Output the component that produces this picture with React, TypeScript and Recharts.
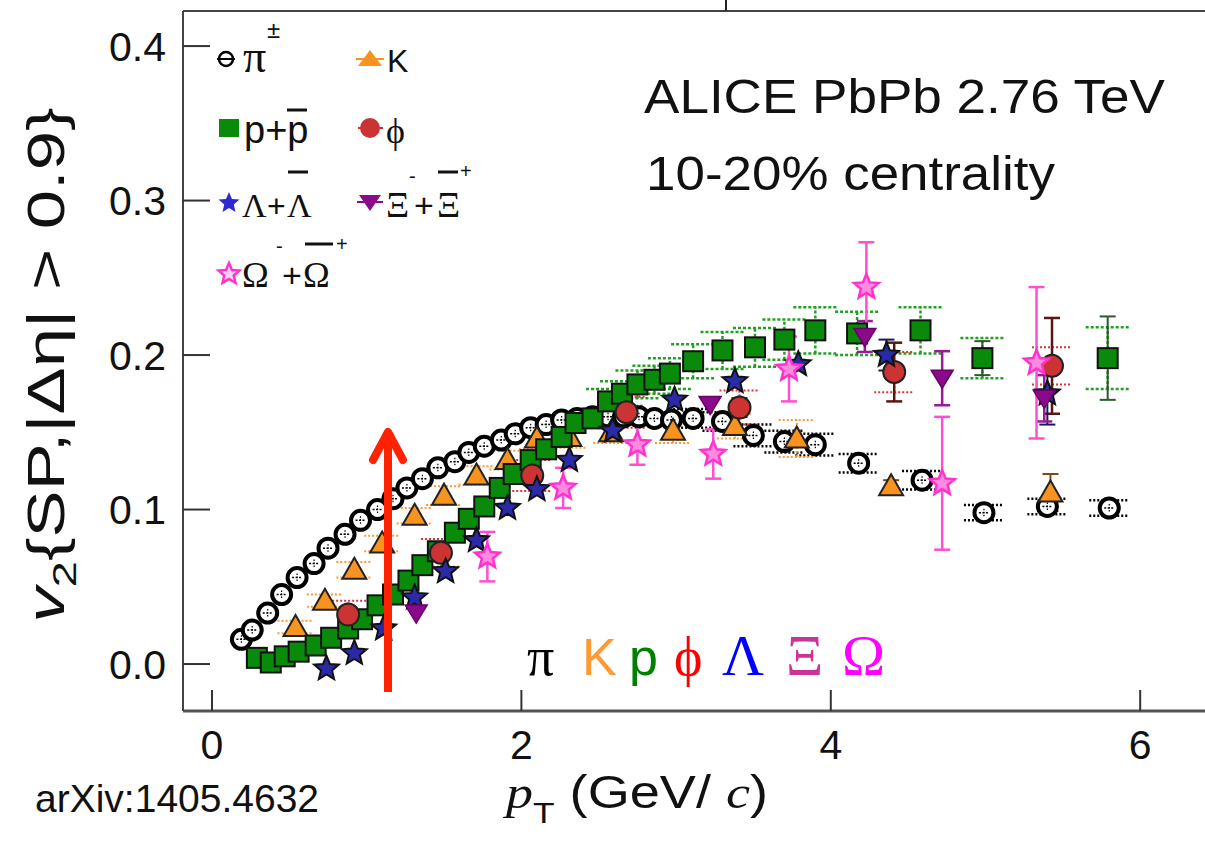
import React from "react";
import { ScatterChart, Scatter, XAxis, YAxis, ErrorBar } from "recharts";

// v2 vs pT
const pionPt = [0.19, 0.26, 0.36, 0.45, 0.55, 0.66, 0.75, 0.86, 0.96, 1.07, 1.17, 1.26, 1.36, 1.46, 1.57, 1.66, 1.76, 1.87, 1.96, 2.06, 2.16, 2.26, 2.36, 2.46, 2.56, 2.66, 2.76, 2.86, 2.97, 3.11, 3.30, 3.50, 3.70, 3.90, 4.18, 4.59, 4.99, 5.40, 5.80];
const pionV2 = [0.016, 0.022, 0.033, 0.045, 0.056, 0.065, 0.075, 0.084, 0.093, 0.100, 0.107, 0.114, 0.120, 0.127, 0.131, 0.137, 0.141, 0.145, 0.149, 0.153, 0.155, 0.158, 0.159, 0.160, 0.160, 0.160, 0.160, 0.159, 0.158, 0.159, 0.157, 0.148, 0.144, 0.142, 0.130, 0.119, 0.098, 0.102, 0.101];
const pionSys = [0, 0, 0, 0, 0, 0, 0, 0, 0, 0, 0, 0, 0, 0, 0, 0, 0, 0, 0, 0, 0, 0, 0, 0, 0, 0, 0, 0, 0, 0.006, 0.006, 0.007, 0.007, 0.007, 0.006, 0.006, 0.005, 0.005, 0.005];

const kaonPt = [0.54, 0.73, 0.92, 1.10, 1.31, 1.50, 1.71, 1.91, 2.10, 2.31, 2.58, 2.98, 3.38, 3.78, 4.39, 5.42];
const kaonV2 = [0.024, 0.041, 0.061, 0.078, 0.096, 0.109, 0.122, 0.132, 0.146, 0.147, 0.150, 0.151, 0.154, 0.146, 0.115, 0.111];
const kaonErr = [0, 0, 0, 0, 0, 0, 0, 0, 0, 0, 0, 0, 0, 0, 0.004, 0.012];
const kaonSys = [0.004, 0.004, 0.005, 0.005, 0.005, 0.006, 0.006, 0.006, 0.007, 0.007, 0.007, 0.008, 0.008, 0.012, 0, 0];

const protonPt = [0.29, 0.38, 0.47, 0.56, 0.67, 0.77, 0.88, 0.97, 1.07, 1.17, 1.27, 1.36, 1.46, 1.57, 1.66, 1.76, 1.86, 1.95, 2.06, 2.16, 2.26, 2.35, 2.46, 2.56, 2.65, 2.75, 2.86, 2.96, 3.11, 3.30, 3.51, 3.70, 3.90, 4.17, 4.58, 4.98, 5.79];
const protonV2 = [0.004, 0.001, 0.005, 0.008, 0.012, 0.017, 0.023, 0.029, 0.038, 0.045, 0.054, 0.064, 0.073, 0.085, 0.094, 0.102, 0.114, 0.123, 0.132, 0.139, 0.147, 0.156, 0.159, 0.170, 0.175, 0.181, 0.184, 0.188, 0.196, 0.203, 0.205, 0.210, 0.216, 0.214, 0.216, 0.198, 0.198];
const protonErr = [0, 0, 0, 0, 0, 0, 0, 0, 0, 0, 0, 0, 0, 0, 0, 0, 0, 0, 0, 0, 0, 0, 0, 0, 0, 0, 0, 0, 0, 0, 0, 0, 0, 0, 0, 0.011, 0.027];
const protonSys = [0, 0, 0, 0, 0, 0, 0, 0, 0, 0, 0, 0, 0, 0, 0, 0, 0, 0, 0, 0, 0, 0, 0, 0.008, 0.008, 0.009, 0.009, 0.01, 0.011, 0.012, 0.0125, 0.013, 0.015, 0.014, 0.015, 0.013, 0.02];

const phiPt = [0.88, 1.48, 2.07, 2.68, 3.41, 4.41, 5.43];
const phiV2 = [0.032, 0.072, 0.122, 0.163, 0.166, 0.189, 0.193];
const phiErr = [0, 0, 0, 0, 0.006, 0.019, 0.031];
const phiSys = [0.009, 0.009, 0.01, 0.01, 0.011, 0.013, 0.012];

const lambdaPt = [0.74, 0.92, 1.11, 1.31, 1.51, 1.71, 1.91, 2.10, 2.31, 2.59, 2.99, 3.38, 3.79, 4.36, 5.40];
const lambdaV2 = [-0.003, 0.007, 0.023, 0.043, 0.060, 0.080, 0.101, 0.113, 0.132, 0.151, 0.171, 0.183, 0.194, 0.200, 0.175];
const lambdaErr = [0, 0, 0, 0, 0, 0, 0, 0, 0, 0, 0, 0, 0, 0.01, 0.02];

const xiPt = [1.32, 3.22, 4.22, 4.72, 5.38];
const xiV2 = [0.033, 0.168, 0.212, 0.185, 0.172];
const xiErr = [0, 0, 0.01, 0.0175, 0.015];

const omegaPt = [1.78, 2.27, 2.75, 3.24, 3.73, 4.23, 4.72, 5.33];
const omegaV2 = [0.0695, 0.114, 0.142, 0.136, 0.191, 0.244, 0.117, 0.195];
const omegaErr = [0.016, 0.013, 0.013, 0.016, 0.021, 0.029, 0.043, 0.049];

const xTicks = [0, 2, 4, 6];
const yTicks = [0, 0.1, 0.2, 0.3, 0.4];

const toRows = (pt: number[], v: number[], e?: number[], s?: number[]) =>
  pt.map((x, i) => ({ x, y: v[i], err: e ? e[i] : 0, sys: s ? s[i] : 0 }));

const SANS = "'Liberation Sans', Arial, Helvetica, sans-serif";
const SERIF = "'Liberation Serif', 'Times New Roman', serif";

function starPath(cx: number, cy: number, R: number, r: number) {
  let d = "";
  for (let i = 0; i < 10; i++) {
    const a = -Math.PI / 2 + (i * Math.PI) / 5;
    const rad = i % 2 === 0 ? R : r;
    d += (i === 0 ? "M" : "L") + (cx + rad * Math.cos(a)).toFixed(2) + "," + (cy + rad * Math.sin(a)).toFixed(2);
  }
  return d + "Z";
}

const PionDot = ({ cx, cy }: any) => (
  <g>
    <circle cx={cx} cy={cy} r={9.5} fill="#fff" stroke="#000" strokeWidth={4} />
    <line x1={cx - 5} x2={cx + 5} y1={cy} y2={cy} stroke="#000" strokeWidth={1.5} strokeDasharray="2 1.5" />
    <line x1={cx} x2={cx} y1={cy - 4} y2={cy + 4} stroke="#000" strokeWidth={1.2} strokeDasharray="1.5 1.5" />
  </g>
);
const KaonTri = ({ cx, cy }: any) => (
  <polygon points={`${cx},${cy - 12} ${cx + 12},${cy + 9} ${cx - 12},${cy + 9}`} fill="#f7931e" stroke="#222" strokeWidth={2} />
);
const ProtonSq = ({ cx, cy }: any) => (
  <rect x={cx - 10} y={cy - 10} width={20} height={20} fill="#0a8a0a" stroke="#111" strokeWidth={2} />
);
const PhiDot = ({ cx, cy }: any) => <circle cx={cx} cy={cy} r={11} fill="#cc3333" stroke="#222" strokeWidth={2} />;
const LambdaStar = ({ cx, cy }: any) => (
  <path d={starPath(cx, cy, 13, 5.8)} fill="#2a2aa8" stroke="#111" strokeWidth={2} />
);
const XiTri = ({ cx, cy }: any) => (
  <polygon points={`${cx - 11},${cy - 8} ${cx + 11},${cy - 8} ${cx},${cy + 10}`} fill="#8b0a8b" stroke="#6a006a" strokeWidth={1.5} />
);
const OmegaStar = ({ cx, cy }: any) => (
  <path d={starPath(cx, cy, 13, 5.8)} fill="#ff88e0" stroke="#ff33cc" strokeWidth={2.5} />
);

function YTick(props: any) {
  const { x, y, payload } = props;
  return (
    <g>
      <line x1={x} x2={x + 27} y1={y} y2={y} stroke="#333" strokeWidth={2} />
      <text x={x - 17} y={y} dy="0.36em" textAnchor="end" fontSize={41} fontFamily={SANS} fill="#111">
        {Number(payload.value).toFixed(1)}
      </text>
    </g>
  );
}

function XTick(props: any) {
  const { x, y, payload } = props;
  return (
    <g>
      <line x1={x} x2={x} y1={y} y2={y - 21} stroke="#333" strokeWidth={2} />
      <text x={x} y={y + 48} textAnchor="middle" fontSize={41} fontFamily={SANS} fill="#111">
        {payload.value}
      </text>
    </g>
  );
}

function Overlay() {
  const t = { fontFamily: SANS, fill: "#111" } as const;
  const g = { fontFamily: SERIF, fill: "#111" } as const;
  return (
    <svg width={1205} height={841} style={{ position: "absolute", left: 0, top: 0, pointerEvents: "none" }}>
      <line x1={183} x2={1205} y1={11} y2={11} stroke="#444" strokeWidth={2} />
      <line x1={726} x2={726} y1={0} y2={11} stroke="#222" strokeWidth={2} />

      {/* legend */}
      <circle cx={226} cy={59} r={7} fill="#fff" stroke="#000" strokeWidth={2.5} />
      <line x1={217} x2={235} y1={59} y2={59} stroke="#000" strokeWidth={2} />
      <text x={243} y={72} fontSize={46} {...g}>π</text>
      <text x={267} y={38} fontSize={24} {...t}>±</text>
      <polygon points="370,50 382,66 358,66" fill="#f7931e" />
      <line x1={356} x2={384} y1={59} y2={59} stroke="#f7931e" strokeWidth={2} />
      <text x={387} y={72} fontSize={32} {...t}>K</text>

      <rect x={219} y={119} width={20} height={18} fill="#0a8a0a" />
      <text x={244} y={143} fontSize={38} {...t}>p+p</text>
      <line x1={287} x2={307} y1={110} y2={110} stroke="#111" strokeWidth={3} />
      <circle cx={370} cy={128} r={10} fill="#cc3333" />
      <line x1={358} x2={383} y1={128} y2={128} stroke="#cc3333" strokeWidth={2} />
      <text x={386} y={143} fontSize={36} {...g}>ϕ</text>

      <path d={starPath(229, 203, 11, 5)} fill="#2a2ad0" />
      <text x={242} y={217} fontSize={34} {...g}>Λ</text>
      <text x={267} y={217} fontSize={32} {...t}>+</text>
      <text x={287} y={217} fontSize={34} {...g}>Λ</text>
      <line x1={288} x2={308} y1={172} y2={172} stroke="#111" strokeWidth={3} />
      <polygon points="359,195 381,195 370,211" fill="#8b0a8b" />
      <line x1={357} x2={383} y1={202} y2={202} stroke="#8b0a8b" strokeWidth={2} />
      <text x={386} y={217} fontSize={36} {...g}>Ξ</text>
      <text x={409} y={183} fontSize={20} {...t}>-</text>
      <text x={414} y={217} fontSize={34} {...t}>+</text>
      <text x={437} y={217} fontSize={36} {...g}>Ξ</text>
      <line x1={438} x2={458} y1={172} y2={172} stroke="#111" strokeWidth={3} />
      <text x={460} y={178} fontSize={20} {...t}>+</text>

      <path d={starPath(229, 274, 11, 5)} fill="#ffd0f4" stroke="#ff33cc" strokeWidth={2.5} />
      <text x={242} y={287} fontSize={36} {...g}>Ω</text>
      <text x={276} y={253} fontSize={20} {...t}>-</text>
      <text x={282} y={287} fontSize={34} {...t}>+</text>
      <text x={303} y={287} fontSize={36} {...g}>Ω</text>
      <line x1={305} x2={333} y1={244} y2={244} stroke="#111" strokeWidth={3} />
      <text x={336} y={251} fontSize={20} {...t}>+</text>

      {/* annotations */}
      <text x={644} y={113} fontSize={48} textLength={521} lengthAdjust="spacingAndGlyphs" {...t}>ALICE PbPb 2.76 TeV</text>
      <text x={646} y={190} fontSize={48} textLength={409} lengthAdjust="spacingAndGlyphs" {...t}>10-20% centrality</text>

      <text x={527} y={675} fontSize={54} fontFamily={SERIF} fill="#000">π</text>
      <text x={582} y={675} fontSize={52} fontFamily={SANS} fill="#ff9933">K</text>
      <text x={629} y={675} fontSize={52} fontFamily={SANS} fill="#008000">p</text>
      <text x={674} y={675} fontSize={54} fontFamily={SERIF} fill="#ff0000">ϕ</text>
      <text x={722} y={675} fontSize={58} fontFamily={SERIF} fill="#0000ff">Λ</text>
      <text x={786} y={675} fontSize={58} fontFamily={SERIF} fill="#cc3399">Ξ</text>
      <text x={842} y={675} fontSize={58} fontFamily={SERIF} fill="#ff00ff">Ω</text>

      {/* arrow */}
      <line x1={388} x2={388} y1={692} y2={434} stroke="#ff2200" strokeWidth={8} />
      <polyline points="373,460 388,432 403,460" fill="none" stroke="#ff2200" strokeWidth={8} strokeLinecap="round" strokeLinejoin="round" />

      {/* axis titles */}
      <text transform="translate(64,365) rotate(-90)" textAnchor="middle" fontSize={51} textLength={515} lengthAdjust="spacingAndGlyphs" {...t}>
        <tspan fontStyle="italic">v</tspan>
        <tspan dy={12} fontSize={34}>2</tspan>
        <tspan dy={-12}>{"{SP,|Δη| > 0.9}"}</tspan>
      </text>
      <text x={506} y={808} fontSize={46} textLength={262} lengthAdjust="spacingAndGlyphs" {...t}>
        <tspan fontFamily={SERIF} fontStyle="italic">p</tspan>
        <tspan dy={15} fontSize={30}>T</tspan>
        <tspan dy={-15}>{" (GeV/ "}</tspan>
        <tspan fontFamily={SERIF} fontStyle="italic">c</tspan>
        <tspan>)</tspan>
      </text>
      <text x={35} y={812} fontSize={39} {...t}>arXiv:1405.4632</text>
    </svg>
  );
}

export default function App() {
  return (
    <div style={{ position: "absolute", left: 0, top: 0, width: 1205, height: 841, background: "#fff" }}>
      <ScatterChart width={1205} height={841} margin={{ top: 11, right: 0, bottom: 0, left: 0 }}>
        <XAxis
          type="number"
          dataKey="x"
          domain={[-0.1875, 6.419]}
          ticks={xTicks}
          interval={0}
          allowDataOverflow
          height={130}
          tickSize={0}
          tickMargin={0}
          tickLine={false}
          axisLine={{ stroke: "#555", strokeWidth: 3 }}
          tick={(p: any) => <XTick {...p} />}
        />
        <YAxis
          type="number"
          dataKey="y"
          domain={[-0.0304, 0.4227]}
          ticks={yTicks}
          interval={0}
          allowDataOverflow
          width={183}
          tickSize={0}
          tickMargin={0}
          tickLine={false}
          axisLine={{ stroke: "#444", strokeWidth: 2 }}
          tick={(p: any) => <YTick {...p} />}
        />
        <Scatter data={toRows(pionPt, pionV2, undefined, pionSys)} isAnimationActive={false} shape={(p: any) => <PionDot {...p} />}>
          <ErrorBar dataKey="sys" direction="y" width={20} stroke="#000" strokeWidth={2.5} strokeDasharray="2 2" />
        </Scatter>
        <Scatter data={toRows(kaonPt, kaonV2, kaonErr, kaonSys)} isAnimationActive={false} shape={(p: any) => <KaonTri {...p} />}>
          <ErrorBar dataKey="sys" direction="y" width={18} stroke="#ff9933" strokeWidth={2} strokeDasharray="2 2" />
          <ErrorBar dataKey="err" direction="y" width={8} stroke="#7a4a1a" strokeWidth={2} />
        </Scatter>
        <Scatter data={toRows(protonPt, protonV2, protonErr, protonSys)} isAnimationActive={false} shape={(p: any) => <ProtonSq {...p} />}>
          <ErrorBar dataKey="sys" direction="y" width={22} stroke="#22a022" strokeWidth={2.5} strokeDasharray="3 2" />
          <ErrorBar dataKey="err" direction="y" width={8} stroke="#2d5a2d" strokeWidth={2} />
        </Scatter>
        <Scatter data={toRows(phiPt, phiV2, phiErr, phiSys)} isAnimationActive={false} shape={(p: any) => <PhiDot {...p} />}>
          <ErrorBar dataKey="sys" direction="y" width={20} stroke="#dd3333" strokeWidth={2} strokeDasharray="2 2" />
          <ErrorBar dataKey="err" direction="y" width={8} stroke="#5a1515" strokeWidth={2.5} />
        </Scatter>
        <Scatter data={toRows(lambdaPt, lambdaV2, lambdaErr)} isAnimationActive={false} shape={(p: any) => <LambdaStar {...p} />}>
          <ErrorBar dataKey="err" direction="y" width={8} stroke="#1a1a5a" strokeWidth={2} />
        </Scatter>
        <Scatter data={toRows(xiPt, xiV2, xiErr)} isAnimationActive={false} shape={(p: any) => <XiTri {...p} />}>
          <ErrorBar dataKey="err" direction="y" width={8} stroke="#9a1a9a" strokeWidth={2.5} />
        </Scatter>
        <Scatter data={toRows(omegaPt, omegaV2, omegaErr)} isAnimationActive={false} shape={(p: any) => <OmegaStar {...p} />}>
          <ErrorBar dataKey="err" direction="y" width={8} stroke="#ff4fd0" strokeWidth={2.5} />
        </Scatter>
      </ScatterChart>
      <Overlay />
    </div>
  );
}
